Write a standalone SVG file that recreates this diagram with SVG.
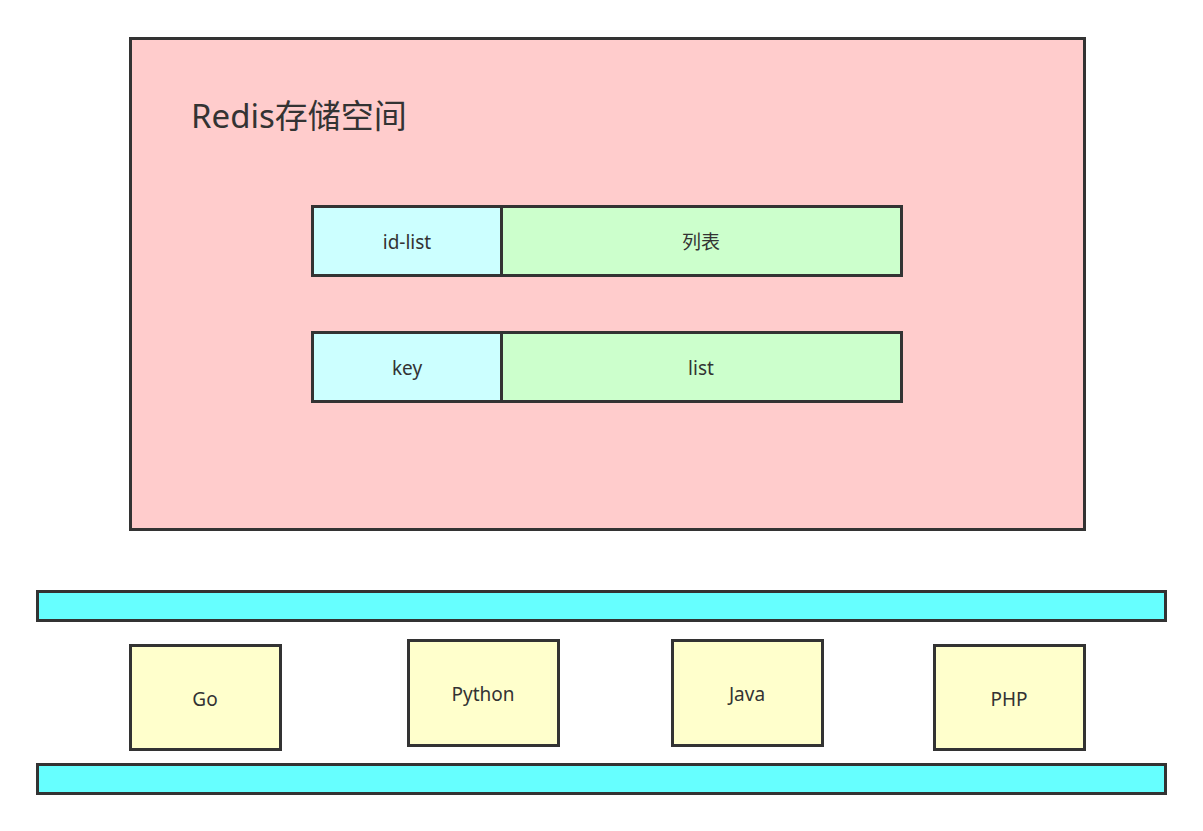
<svg xmlns="http://www.w3.org/2000/svg" width="1203" height="831" viewBox="0 0 1203 831">
<style>
rect{stroke:#333333;stroke-width:3}
text{font-family:"Noto Sans","Noto Sans CJK SC",sans-serif;fill:#333333;text-anchor:middle;dominant-baseline:central;font-size:19px}
.key{fill:#ccffff}
.val{fill:#ccffcc}
.bar{fill:#66ffff}
.lang{fill:#ffffcc}
</style>
<rect width="1203" height="831" fill="#ffffff" style="stroke:none"/>
<g id="redis">
<rect x="130.5" y="38.5" width="954" height="491" fill="#ffcccc"/>
<text x="191" y="115" style="text-anchor:start;font-size:33px">Redis存储空间</text>
</g>
<g id="idlist-key">
<rect class="key" x="312.5" y="206.5" width="189" height="69"/>
<text x="407" y="242">id-list</text>
</g>
<g id="idlist-val">
<rect class="val" x="501.5" y="206.5" width="400" height="69"/>
<text x="701" y="242">列表</text>
</g>
<g id="key-key">
<rect class="key" x="312.5" y="332.5" width="189" height="69"/>
<text x="407" y="368">key</text>
</g>
<g id="key-val">
<rect class="val" x="501.5" y="332.5" width="400" height="69"/>
<text x="701" y="368">list</text>
</g>
<g id="bar-top">
<rect class="bar" x="37.5" y="591.5" width="1128" height="29"/>
</g>
<g id="bar-bottom">
<rect class="bar" x="37.5" y="764.5" width="1128" height="29"/>
</g>
<g id="go">
<rect class="lang" x="130.5" y="645.5" width="150" height="104"/>
<text x="205" y="699">Go</text>
</g>
<g id="python">
<rect class="lang" x="408.5" y="640.5" width="150" height="105"/>
<text x="483" y="694">Python</text>
</g>
<g id="java">
<rect class="lang" x="672.5" y="640.5" width="150" height="105"/>
<text x="747" y="694">Java</text>
</g>
<g id="php">
<rect class="lang" x="934.5" y="645.5" width="150" height="104"/>
<text x="1009" y="699">PHP</text>
</g>
<g id="connectors"></g>
</svg>
